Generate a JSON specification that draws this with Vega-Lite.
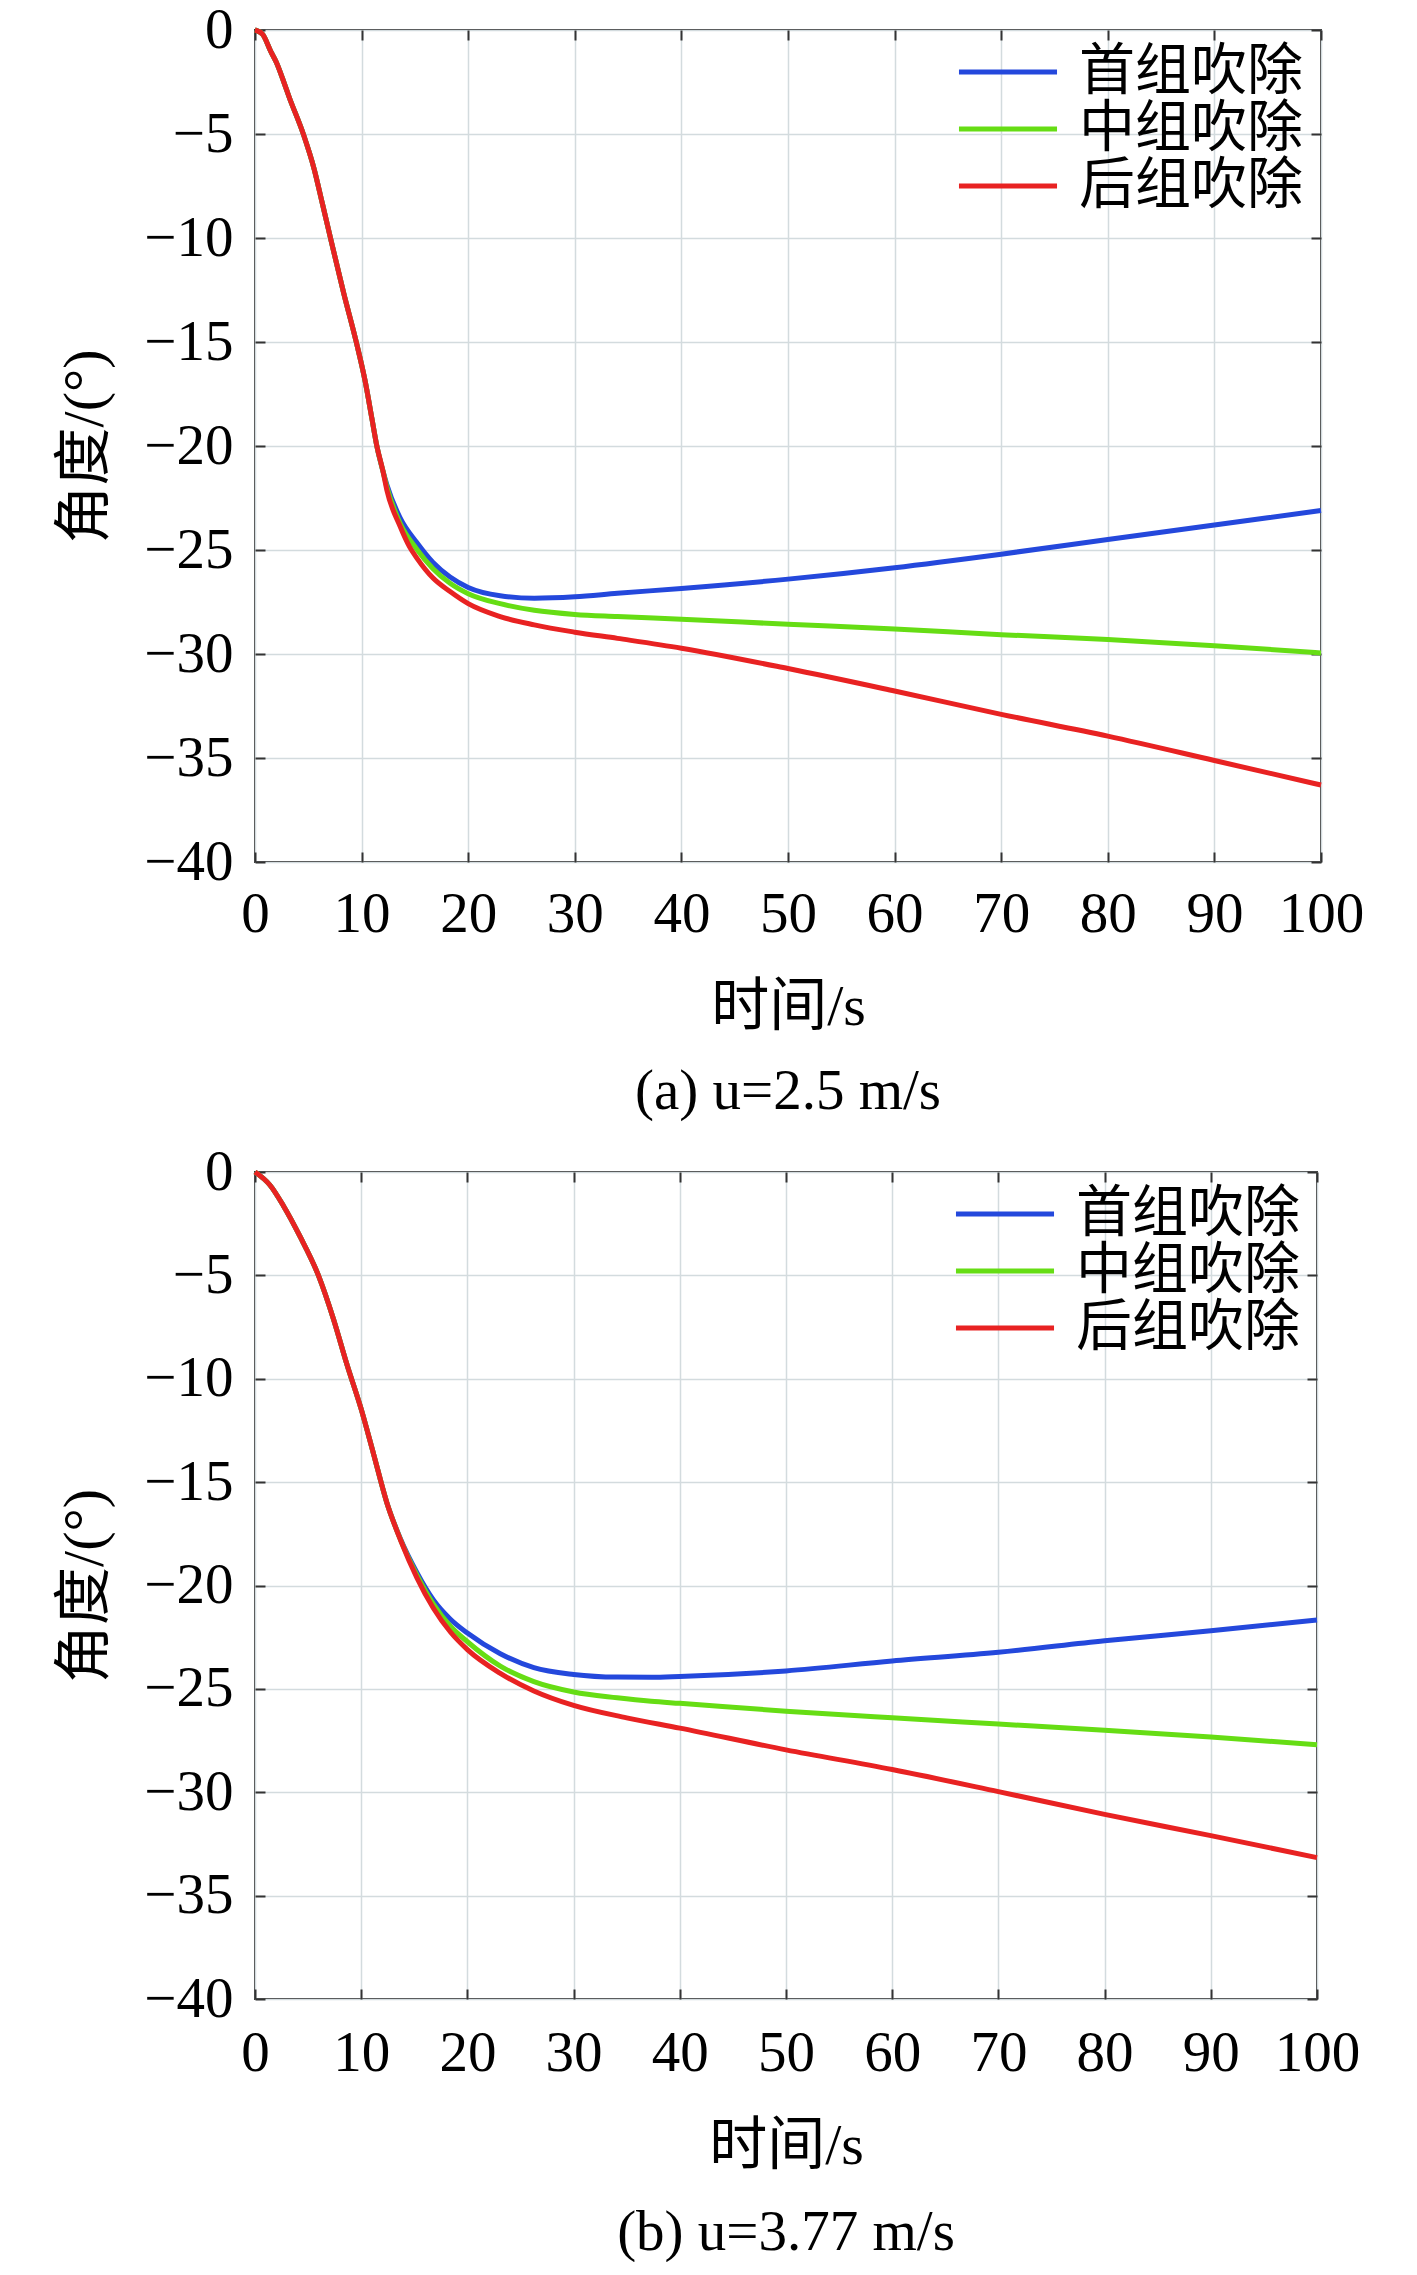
{
  "$schema": "https://vega.github.io/schema/vega-lite/v6.json",
  "padding": {"left": 55, "top": 0, "right": 10, "bottom": 0},
  "background": "white",
  "config": {
    "font": "Liberation Serif, Noto Sans CJK SC",
    "view": {"stroke": "#333333", "strokeWidth": 2},
    "axis": {
      "domain": false,
      "grid": true,
      "gridColor": "#d3dbde",
      "gridWidth": 1.5,
      "ticks": true,
      "tickSize": -10,
      "tickColor": "#333333",
      "tickWidth": 2,
      "labelFont": "Liberation Serif",
      "labelFontSize": 57,
      "labelColor": "black",
      "labelOverlap": false,
      "labelFlush": false,
      "titleFont": "Liberation Serif, Noto Sans CJK SC",
      "titleFontSize": 58,
      "titleFontWeight": "normal",
      "titleColor": "black"
    },
    "legend": {
      "orient": "none", "legendY": 13, "title": null,
      "symbolType": "M-1.85,0H1.85", "symbolSize": 2809, "symbolStrokeWidth": 5,
      "labelFont": "Noto Sans CJK SC", "labelFontSize": 56, "labelColor": "black",
      "labelLimit": 600, "labelOffset": 42, "rowPadding": 0
    },
    "title": {"font": "Liberation Serif", "fontSize": 57, "fontWeight": "normal", "color": "black"},
    "concat": {"spacing": 21}
  },
  "data": {
    "values": [
      {"p":"a","s":"首组吹除","t":0,"v":0},{"p":"a","s":"首组吹除","t":0.7,"v":-0.2},{"p":"a","s":"首组吹除","t":1.5,"v":-1.05},{"p":"a","s":"首组吹除","t":2,"v":-1.55},{"p":"a","s":"首组吹除","t":2.73,"v":-2.54},{"p":"a","s":"首组吹除","t":3.2,"v":-3.22},{"p":"a","s":"首组吹除","t":4.53,"v":-5},{"p":"a","s":"首组吹除","t":5.53,"v":-6.65},{"p":"a","s":"首组吹除","t":6.3,"v":-8.3},{"p":"a","s":"首组吹除","t":7.08,"v":-10},{"p":"a","s":"首组吹除","t":8.32,"v":-12.65},{"p":"a","s":"首组吹除","t":9.5,"v":-15},{"p":"a","s":"首组吹除","t":10.34,"v":-16.9},{"p":"a","s":"首组吹除","t":10.96,"v":-18.66},{"p":"a","s":"首组吹除","t":11.43,"v":-20},{"p":"a","s":"首组吹除","t":12,"v":-21.2},
      {"p":"a","s":"首组吹除","t":12.36,"v":-21.85},{"p":"a","s":"首组吹除","t":13.6,"v":-23.44},{"p":"a","s":"首组吹除","t":15.16,"v":-24.63},{"p":"a","s":"首组吹除","t":16.7,"v":-25.6},{"p":"a","s":"首组吹除","t":18.3,"v":-26.3},{"p":"a","s":"首组吹除","t":20,"v":-26.8},{"p":"a","s":"首组吹除","t":23,"v":-27.2},{"p":"a","s":"首组吹除","t":26.2,"v":-27.32},{"p":"a","s":"首组吹除","t":30,"v":-27.25},{"p":"a","s":"首组吹除","t":34,"v":-27.08},{"p":"a","s":"首组吹除","t":40,"v":-26.85},{"p":"a","s":"首组吹除","t":50,"v":-26.4},{"p":"a","s":"首组吹除","t":60,"v":-25.85},{"p":"a","s":"首组吹除","t":70,"v":-25.2},{"p":"a","s":"首组吹除","t":80,"v":-24.5},{"p":"a","s":"首组吹除","t":90,"v":-23.8},{"p":"a","s":"首组吹除","t":100,"v":-23.1},

      {"p":"a","s":"中组吹除","t":0,"v":0},{"p":"a","s":"中组吹除","t":0.7,"v":-0.2},{"p":"a","s":"中组吹除","t":1.5,"v":-1.05},{"p":"a","s":"中组吹除","t":2,"v":-1.55},{"p":"a","s":"中组吹除","t":2.73,"v":-2.54},{"p":"a","s":"中组吹除","t":3.2,"v":-3.22},{"p":"a","s":"中组吹除","t":4.53,"v":-5},{"p":"a","s":"中组吹除","t":5.53,"v":-6.65},{"p":"a","s":"中组吹除","t":6.3,"v":-8.3},{"p":"a","s":"中组吹除","t":7.08,"v":-10},{"p":"a","s":"中组吹除","t":8.32,"v":-12.65},{"p":"a","s":"中组吹除","t":9.5,"v":-15},{"p":"a","s":"中组吹除","t":10.34,"v":-16.9},{"p":"a","s":"中组吹除","t":10.96,"v":-18.66},{"p":"a","s":"中组吹除","t":11.43,"v":-20},{"p":"a","s":"中组吹除","t":12,"v":-21.2},
      {"p":"a","s":"中组吹除","t":12.36,"v":-21.95},{"p":"a","s":"中组吹除","t":13.6,"v":-23.7},{"p":"a","s":"中组吹除","t":15.16,"v":-24.95},{"p":"a","s":"中组吹除","t":16.7,"v":-25.9},{"p":"a","s":"中组吹除","t":18.3,"v":-26.6},{"p":"a","s":"中组吹除","t":20,"v":-27.1},{"p":"a","s":"中组吹除","t":23,"v":-27.58},{"p":"a","s":"中组吹除","t":26.2,"v":-27.9},{"p":"a","s":"中组吹除","t":30,"v":-28.1},{"p":"a","s":"中组吹除","t":34,"v":-28.2},{"p":"a","s":"中组吹除","t":40,"v":-28.33},{"p":"a","s":"中组吹除","t":50,"v":-28.57},{"p":"a","s":"中组吹除","t":60,"v":-28.8},{"p":"a","s":"中组吹除","t":70,"v":-29.07},{"p":"a","s":"中组吹除","t":80,"v":-29.3},{"p":"a","s":"中组吹除","t":90,"v":-29.6},{"p":"a","s":"中组吹除","t":100,"v":-29.95},

      {"p":"a","s":"后组吹除","t":0,"v":0},{"p":"a","s":"后组吹除","t":0.7,"v":-0.2},{"p":"a","s":"后组吹除","t":1.5,"v":-1.05},{"p":"a","s":"后组吹除","t":2,"v":-1.55},{"p":"a","s":"后组吹除","t":2.73,"v":-2.54},{"p":"a","s":"后组吹除","t":3.2,"v":-3.22},{"p":"a","s":"后组吹除","t":4.53,"v":-5},{"p":"a","s":"后组吹除","t":5.53,"v":-6.65},{"p":"a","s":"后组吹除","t":6.3,"v":-8.3},{"p":"a","s":"后组吹除","t":7.08,"v":-10},{"p":"a","s":"后组吹除","t":8.32,"v":-12.65},{"p":"a","s":"后组吹除","t":9.5,"v":-15},{"p":"a","s":"后组吹除","t":10.34,"v":-16.9},{"p":"a","s":"后组吹除","t":10.96,"v":-18.66},{"p":"a","s":"后组吹除","t":11.43,"v":-20},{"p":"a","s":"后组吹除","t":12,"v":-21.2},
      {"p":"a","s":"后组吹除","t":12.36,"v":-22.1},{"p":"a","s":"后组吹除","t":13.6,"v":-23.85},{"p":"a","s":"后组吹除","t":14.5,"v":-24.85},{"p":"a","s":"后组吹除","t":15.2,"v":-25.4},{"p":"a","s":"后组吹除","t":16.7,"v":-26.35},{"p":"a","s":"后组吹除","t":18.3,"v":-27.0},{"p":"a","s":"后组吹除","t":20,"v":-27.58},{"p":"a","s":"后组吹除","t":23,"v":-28.2},{"p":"a","s":"后组吹除","t":26.2,"v":-28.6},{"p":"a","s":"后组吹除","t":30,"v":-28.95},{"p":"a","s":"后组吹除","t":34,"v":-29.25},{"p":"a","s":"后组吹除","t":40,"v":-29.72},{"p":"a","s":"后组吹除","t":50,"v":-30.7},{"p":"a","s":"后组吹除","t":60,"v":-31.78},{"p":"a","s":"后组吹除","t":70,"v":-32.9},{"p":"a","s":"后组吹除","t":80,"v":-33.95},{"p":"a","s":"后组吹除","t":90,"v":-35.12},{"p":"a","s":"后组吹除","t":100,"v":-36.3},

      {"p":"b","s":"首组吹除","t":0,"v":0},{"p":"b","s":"首组吹除","t":1.4,"v":-0.63},{"p":"b","s":"首组吹除","t":2.67,"v":-1.63},{"p":"b","s":"首组吹除","t":4.25,"v":-3.13},{"p":"b","s":"首组吹除","t":5.97,"v":-5},{"p":"b","s":"首组吹除","t":7.4,"v":-7.13},{"p":"b","s":"首组吹除","t":8.65,"v":-9.3},{"p":"b","s":"首组吹除","t":10,"v":-11.47},{"p":"b","s":"首组吹除","t":11.16,"v":-13.63},{"p":"b","s":"首组吹除","t":12.4,"v":-15.97},
      {"p":"b","s":"首组吹除","t":13.7,"v":-17.75},{"p":"b","s":"首组吹除","t":15.25,"v":-19.38},{"p":"b","s":"首组吹除","t":16.8,"v":-20.7},{"p":"b","s":"首组吹除","t":18.4,"v":-21.63},{"p":"b","s":"首组吹除","t":20,"v":-22.3},{"p":"b","s":"首组吹除","t":23.1,"v":-23.3},{"p":"b","s":"首组吹除","t":26.26,"v":-23.97},{"p":"b","s":"首组吹除","t":30,"v":-24.3},{"p":"b","s":"首组吹除","t":34.1,"v":-24.43},{"p":"b","s":"首组吹除","t":37.3,"v":-24.44},{"p":"b","s":"首组吹除","t":40,"v":-24.4},{"p":"b","s":"首组吹除","t":50,"v":-24.13},{"p":"b","s":"首组吹除","t":60,"v":-23.65},{"p":"b","s":"首组吹除","t":70,"v":-23.23},{"p":"b","s":"首组吹除","t":80,"v":-22.67},{"p":"b","s":"首组吹除","t":90,"v":-22.19},{"p":"b","s":"首组吹除","t":100,"v":-21.67},

      {"p":"b","s":"中组吹除","t":0,"v":0},{"p":"b","s":"中组吹除","t":1.4,"v":-0.63},{"p":"b","s":"中组吹除","t":2.67,"v":-1.63},{"p":"b","s":"中组吹除","t":4.25,"v":-3.13},{"p":"b","s":"中组吹除","t":5.97,"v":-5},{"p":"b","s":"中组吹除","t":7.4,"v":-7.13},{"p":"b","s":"中组吹除","t":8.65,"v":-9.3},{"p":"b","s":"中组吹除","t":10,"v":-11.47},{"p":"b","s":"中组吹除","t":11.16,"v":-13.63},{"p":"b","s":"中组吹除","t":12.4,"v":-15.97},
      {"p":"b","s":"中组吹除","t":13.7,"v":-17.78},{"p":"b","s":"中组吹除","t":15.25,"v":-19.5},{"p":"b","s":"中组吹除","t":16.8,"v":-20.9},{"p":"b","s":"中组吹除","t":18.4,"v":-21.97},{"p":"b","s":"中组吹除","t":20,"v":-22.72},{"p":"b","s":"中组吹除","t":23.1,"v":-23.9},{"p":"b","s":"中组吹除","t":26.26,"v":-24.65},{"p":"b","s":"中组吹除","t":30,"v":-25.15},{"p":"b","s":"中组吹除","t":34.1,"v":-25.43},{"p":"b","s":"中组吹除","t":37.3,"v":-25.6},{"p":"b","s":"中组吹除","t":40,"v":-25.7},{"p":"b","s":"中组吹除","t":50,"v":-26.08},{"p":"b","s":"中组吹除","t":60,"v":-26.4},{"p":"b","s":"中组吹除","t":70,"v":-26.7},{"p":"b","s":"中组吹除","t":80,"v":-27.0},{"p":"b","s":"中组吹除","t":90,"v":-27.33},{"p":"b","s":"中组吹除","t":100,"v":-27.7},

      {"p":"b","s":"后组吹除","t":0,"v":0},{"p":"b","s":"后组吹除","t":1.4,"v":-0.63},{"p":"b","s":"后组吹除","t":2.67,"v":-1.63},{"p":"b","s":"后组吹除","t":4.25,"v":-3.13},{"p":"b","s":"后组吹除","t":5.97,"v":-5},{"p":"b","s":"后组吹除","t":7.4,"v":-7.13},{"p":"b","s":"后组吹除","t":8.65,"v":-9.3},{"p":"b","s":"后组吹除","t":10,"v":-11.47},{"p":"b","s":"后组吹除","t":11.16,"v":-13.63},{"p":"b","s":"后组吹除","t":12.4,"v":-15.97},
      {"p":"b","s":"后组吹除","t":13.7,"v":-17.8},{"p":"b","s":"后组吹除","t":15.25,"v":-19.63},{"p":"b","s":"后组吹除","t":16.8,"v":-21.1},{"p":"b","s":"后组吹除","t":18.4,"v":-22.25},{"p":"b","s":"后组吹除","t":20,"v":-23.1},{"p":"b","s":"后组吹除","t":23.1,"v":-24.25},{"p":"b","s":"后组吹除","t":26.26,"v":-25.1},{"p":"b","s":"后组吹除","t":30,"v":-25.8},{"p":"b","s":"后组吹除","t":35,"v":-26.4},{"p":"b","s":"后组吹除","t":40,"v":-26.9},{"p":"b","s":"后组吹除","t":50,"v":-27.95},{"p":"b","s":"后组吹除","t":60,"v":-28.9},{"p":"b","s":"后组吹除","t":70,"v":-29.97},{"p":"b","s":"后组吹除","t":80,"v":-31.07},{"p":"b","s":"后组吹除","t":90,"v":-32.1},{"p":"b","s":"后组吹除","t":100,"v":-33.16}
    ]
  },
  "vconcat": [
    {
      "width": 1066,
      "height": 832,
      "transform": [{"filter": "datum.p == 'a'"}],
      "title": {"text": "(a) u=2.5 m/s", "orient": "bottom", "frame": "group", "offset": 28},
      "layer": [
        {
          "mark": {"type": "line", "strokeWidth": 5, "interpolate": "monotone"},
          "encoding": {
            "x": {"field": "t", "type": "quantitative", "scale": {"domain": [0, 100], "nice": false},
                  "axis": {"title": "时间/s", "values": [0,10,20,30,40,50,60,70,80,90,100], "labelPadding": 34, "titlePadding": 36}},
            "y": {"field": "v", "type": "quantitative", "scale": {"domain": [-40, 0], "nice": false},
                  "axis": {"title": "角度/(°)", "values": [-40,-35,-30,-25,-20,-15,-10,-5,0], "labelPadding": 32, "titlePadding": 29}},
            "color": {"field": "s", "type": "nominal",
                      "scale": {"domain": ["首组吹除", "中组吹除", "后组吹除"], "range": ["#2448dc", "#66dd14", "#e82222"]},
                      "legend": {"legendX": 724}}
          }
        },
        {
          "mark": {"type": "line", "opacity": 0},
          "encoding": {
            "x": {"field": "t", "type": "quantitative", "axis": {"orient": "top", "labels": false, "title": null, "grid": false, "values": [0,10,20,30,40,50,60,70,80,90,100]}},
            "y": {"field": "v", "type": "quantitative", "axis": {"orient": "right", "labels": false, "title": null, "grid": false, "values": [-40,-35,-30,-25,-20,-15,-10,-5,0]}},
            "detail": {"field": "s"}
          }
        }
      ],
      "resolve": {"axis": {"x": "independent", "y": "independent"}}
    },
    {
      "width": 1062,
      "height": 827,
      "transform": [{"filter": "datum.p == 'b'"}],
      "title": {"text": "(b) u=3.77 m/s", "orient": "bottom", "frame": "group", "offset": 30},
      "layer": [
        {
          "mark": {"type": "line", "strokeWidth": 5, "interpolate": "monotone"},
          "encoding": {
            "x": {"field": "t", "type": "quantitative", "scale": {"domain": [0, 100], "nice": false},
                  "axis": {"title": "时间/s", "values": [0,10,20,30,40,50,60,70,80,90,100], "labelPadding": 36, "titlePadding": 36}},
            "y": {"field": "v", "type": "quantitative", "scale": {"domain": [-40, 0], "nice": false},
                  "axis": {"title": "角度/(°)", "values": [-40,-35,-30,-25,-20,-15,-10,-5,0], "labelPadding": 32, "titlePadding": 29}},
            "color": {"field": "s", "type": "nominal",
                      "scale": {"domain": ["首组吹除", "中组吹除", "后组吹除"], "range": ["#2448dc", "#66dd14", "#e82222"]},
                      "legend": {"legendX": 721}}
          }
        },
        {
          "mark": {"type": "line", "opacity": 0},
          "encoding": {
            "x": {"field": "t", "type": "quantitative", "axis": {"orient": "top", "labels": false, "title": null, "grid": false, "values": [0,10,20,30,40,50,60,70,80,90,100]}},
            "y": {"field": "v", "type": "quantitative", "axis": {"orient": "right", "labels": false, "title": null, "grid": false, "values": [-40,-35,-30,-25,-20,-15,-10,-5,0]}},
            "detail": {"field": "s"}
          }
        }
      ],
      "resolve": {"axis": {"x": "independent", "y": "independent"}}
    }
  ],
  "resolve": {"scale": {"color": "independent"}}
}
